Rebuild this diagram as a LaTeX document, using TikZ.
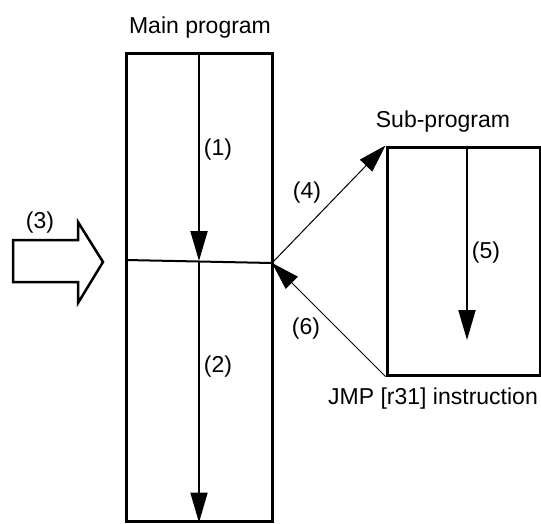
\documentclass[tikz,border=0pt]{standalone}
\usepackage{fontspec}
\setmainfont{Liberation Sans}
\usepackage{tikz}
\usetikzlibrary{arrows.meta,positioning,calc}

\begin{document}
\begin{tikzpicture}[
	x=1pt, y=-1pt,
	progbox/.style={
		draw,
		line width=3pt,
		inner sep=0pt
	},
	flow/.style={
		line width=2pt,
		-{Triangle[length=30pt,width=17pt]}
	},
	jump/.style={
		line width=1pt,
		-{Triangle[length=28pt,width=17pt]}
	},
	txt/.style={
		anchor=base,
		inner sep=0pt,
		font=\fontsize{23}{28}\selectfont
	},
	]
	\useasboundingbox (0,0) rectangle (541,523);
	
	\node[progbox, minimum width=146pt, minimum height=468pt] (main) at (199,287) {};
	\node[progbox, minimum width=153pt, minimum height=228pt] (sub) at (463.5,261) {};
	\node[txt] (mainlbl) at (200,33) {Main program};
	\node[txt] (sublbl) at (443,127) {Sub-program};
	\node[txt] (jmplbl) at (433,404) {JMP [r31] instruction};
	
	% call point in the main program
	\coordinate (jl) at (126,260);
	\coordinate (jr) at (272,263);
	\coordinate (jm) at (199,261);
	\draw[line width=2pt] (jl) -- (jr);
	\draw[flow] (main.north) -- (jm);
	\draw[flow] (jm) -- (main.south);
	
	% sub-program run
	\coordinate (s5) at (467,340);
	\draw[flow] (s5 |- sub.north) -- (s5);
	
	\draw[jump] (jr) -- (sub.north west);
	\draw[jump] (sub.south west) -- (jr);
	
	% interrupt arrow
	\coordinate (itip) at (103,262);
	\draw[line width=2.5pt, line join=miter]
		(13,240) -- (78,240) -- (78,222) -- (itip) -- (78,303) -- (78,282) -- (13,282) -- cycle;
	
	\node[txt] (n1) at (218,155) {(1)};
	\node[txt] (n2) at (218,372) {(2)};
	\node[txt] (n3) at (40,228) {(3)};
	\node[txt] (n4) at (307,198) {(4)};
	\node[txt] (n5) at (486,258) {(5)};
	\node[txt] (n6) at (306,334) {(6)};
\end{tikzpicture}
\end{document}
